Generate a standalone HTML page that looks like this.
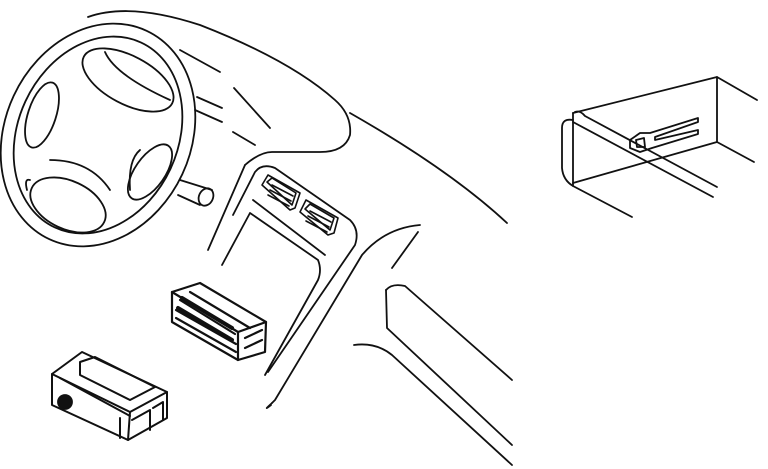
<!DOCTYPE html>
<html><head><style>html,body{margin:0;padding:0;background:#fff}svg{display:block}</style></head>
<body>
<svg width="768" height="469" viewBox="0 0 768 469" fill="none" stroke="#111" stroke-width="1.8" stroke-linecap="round" stroke-linejoin="round">
<!-- steering wheel -->
<ellipse cx="98" cy="135" rx="93" ry="115" transform="rotate(25 98 135)"/>
<ellipse cx="98" cy="135" rx="80" ry="102" transform="rotate(25 98 135)"/>
<ellipse cx="128" cy="80" rx="50" ry="24" transform="rotate(28 128 80)"/>
<path d="M105 52 Q115 75 170 100"/>
<ellipse cx="42" cy="115" rx="14" ry="34" transform="rotate(18 42 115)"/>
<ellipse cx="150" cy="172" rx="15" ry="32" transform="rotate(35 150 172)"/>
<ellipse cx="68" cy="205" rx="40" ry="24" transform="rotate(25 68 205)"/>
<path d="M50 160 Q90 160 110 190"/>
<path d="M140 150 Q128 160 130 190"/>
<path d="M30 180 Q24 178 27 190"/>
<!-- column -->
<path d="M180 180 L212 190 M178 195 L200 205"/>
<ellipse cx="206" cy="197" rx="7" ry="9" transform="rotate(25 206 197)"/>
<!-- dashboard -->
<path d="M88 17 Q130 2 200 25 Q290 60 335 100 Q352 115 350 135 Q345 152 320 152 L272 152 Q260 152 245 165"/>
<path d="M350 113 Q450 170 507 223"/>
<path d="M180 50 L220 72 M197 97 L222 108 M195 110 L222 122 M234 88 L270 128 M233 132 L255 145"/>
<path d="M245 165 L208 250"/>
<!-- console -->
<path d="M233 215 L255 172 Q262 163 275 168 L350 220 Q360 230 355 245 L268 372"/>
<path d="M222 265 L250 213 L318 260 Q322 270 318 280 L265 375"/>
<path d="M253 200 L325 255"/>
<path d="M420 225 Q385 228 362 255 L275 400 L272 403"/>
<path d="M418 232 L392 268"/>
<path d="M272 403 Q262 412 271 405"/>
<!-- vents -->
<g stroke-width="1.6">
<path d="M262 185 L268 175 L300 193 L295 208 L290 210 Z"/>
<path d="M267 182 L272 178 L296 193 L292 205 Z"/>
<path d="M272 185 L293 196 M270 190 L291 201 M268 195 L289 206"/>
<path d="M300 212 L306 200 L338 218 L334 233 L328 235 Z"/>
<path d="M305 209 L310 204 L334 218 L330 230 Z"/>
<path d="M310 211 L331 222 M308 216 L329 227 M306 221 L327 232"/>
</g>
<!-- glovebox -->
<path d="M386 290 Q392 283 405 286 L512 380"/>
<path d="M386 290 L387 328 L512 445"/>
<path d="M354 345 Q376 342 392 355 L512 465"/>
<!-- cage -->
<g stroke-width="2.2">
<path d="M172 292 L200 283 L266 322 L265 352 L238 360 L172 322 Z"/>
<path d="M172 292 L238 332 L266 322 M238 332 L238 360"/>
<path d="M180 300 L235 334 M176 310 L236 344 M176 318 L236 352 M190 292 L250 328"/>
<path d="M245 338 L262 330 M245 348 L262 340"/>
</g>
<path d="M182 298 L232 328 M178 308 L232 340" stroke-width="4"/>
<!-- radio -->
<g stroke-width="2">
<path d="M52 374 L82 352 L167 392 L167 418 L128 440 L52 405 Z"/>
<path d="M52 374 L130 412 L167 392 M130 412 L128 440"/>
<path d="M60 378 L130 416"/>
<path d="M80 362 L95 357 L155 387 L130 400 L80 375 Z"/>
<path d="M120 418 L120 438 M132 420 L150 410 L150 430 M153 408 L163 402 L163 420"/>
</g>
<circle cx="65" cy="402" r="7" fill="#111"/>
<!-- right bracket -->
<path d="M573 113 L717 77 L757 100"/>
<path d="M717 77 L717 142 L754 162"/>
<path d="M573 183 L717 142"/>
<path d="M573 113 L573 186"/>
<path d="M573 120 Q562 118 562 128 L562 168 Q563 180 573 186 L632 217"/>
<path d="M575 112 Q580 110 585 116 L717 187"/>
<path d="M573 122 L713 197"/>
<path d="M630 140 L640 133 L650 133 L698 118 L698 122 L655 137 L655 140 L698 130 L698 134 L652 148 L640 152 L630 148 Z"/>
<path d="M636 140 L644 138 L645 147 L637 147 Z"/>
</svg>
</body></html>
